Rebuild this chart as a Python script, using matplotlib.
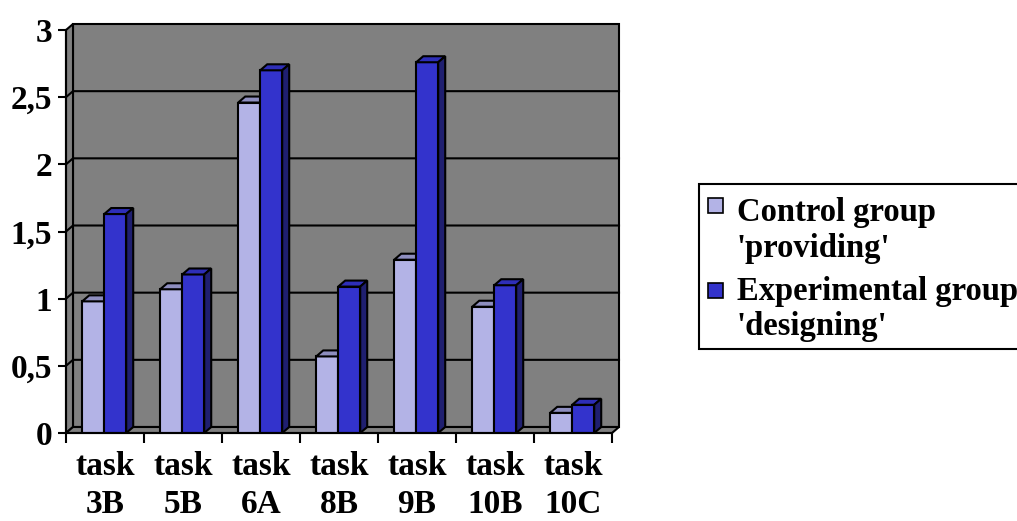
import matplotlib
matplotlib.use("Agg")
import matplotlib.pyplot as plt
from matplotlib.patches import Polygon, Rectangle
from matplotlib.lines import Line2D

# Mean scores per task
categories = ["3B", "5B", "6A", "8B", "9B", "10B", "10C"]
control_vals = [0.98, 1.07, 2.46, 0.57, 1.29, 0.94, 0.15]
experimental_vals = [1.63, 1.18, 2.70, 1.09, 2.76, 1.10, 0.21]
series_names = ["Control group\n'providing'", "Experimental group\n'designing'"]
y_ticks = [0, 0.5, 1, 1.5, 2, 2.5, 3]
y_tick_labels = ["0", "0,5", "1", "1,5", "2", "2,5", "3"]

W, H = 1017, 521
FONT = "Liberation Serif"
EDGE = "black"
LW = 1.5
GRAY = "#808080"

face_colors = ["#B3B3E6", "#3333CC"]
top_colors = ["#8E8EBF", "#2E2EB8"]
side_colors = ["#7A7AA8", "#1F1F70"]

fig = plt.figure(figsize=(W / 100, H / 100), dpi=100)
fig.patch.set_facecolor("white")

# front plane of the plot box, in pixels
x0, x1, y_top, y_bot = 66, 612, 30, 433
ax = fig.add_axes([x0 / W, 1 - y_bot / H, (x1 - x0) / W, (y_bot - y_top) / H])
ax.set_facecolor("none")
n = len(categories)
ax.set_xlim(0, n)
ax.set_ylim(0, 3)

# depth offsets of the walls and bars (data units)
wdx, wdy = 7 / 78, 6 / 134.3
bdx, bdy = 7 / 78, 6 / 134.3
ymax = 3

# back wall
ax.add_patch(Polygon([(wdx, wdy), (n + wdx, wdy), (n + wdx, ymax + wdy), (wdx, ymax + wdy)],
                     closed=True, facecolor=GRAY, edgecolor=EDGE, lw=LW, zorder=1, clip_on=False))
# side wall
ax.add_patch(Polygon([(0, 0), (wdx, wdy), (wdx, ymax + wdy), (0, ymax)],
                     closed=True, facecolor=GRAY, edgecolor=EDGE, lw=LW, zorder=1, clip_on=False))
# floor
ax.add_patch(Polygon([(0, 0), (n, 0), (n + wdx, wdy), (wdx, wdy)],
                     closed=True, facecolor=GRAY, edgecolor=EDGE, lw=LW, zorder=1, clip_on=False))

# gridlines on the back and side walls
for v in y_ticks[1:-1]:
    ax.add_line(Line2D([0, wdx, n + wdx], [v, v + wdy, v + wdy], color=EDGE, lw=LW,
                       zorder=2, clip_on=False))

# bars with a shallow 3D look
bw = 0.282
centre = 0.49
for s, vals in enumerate([control_vals, experimental_vals]):
    xs = [i + centre - bw + s * bw for i in range(n)]
    ax.bar(xs, vals, width=bw, align="edge", color=face_colors[s], edgecolor=EDGE,
           lw=LW, zorder=3 + 0.01 * s, label=series_names[s])
    for xl, v in zip(xs, vals):
        xr = xl + bw
        ax.add_patch(Polygon([(xl, v), (xr, v), (xr + bdx, v + bdy), (xl + bdx, v + bdy)],
                             closed=True, facecolor=top_colors[s], edgecolor=EDGE, lw=LW,
                             zorder=3 + 0.01 * s, clip_on=False))
        ax.add_patch(Polygon([(xr, 0), (xr + bdx, bdy), (xr + bdx, v + bdy), (xr, v)],
                             closed=True, facecolor=side_colors[s], edgecolor=EDGE, lw=LW,
                             zorder=3 + 0.01 * s, clip_on=False))

# axes lines and ticks
for side in ["top", "right"]:
    ax.spines[side].set_visible(False)
for side in ["left", "bottom"]:
    ax.spines[side].set_linewidth(LW)
    ax.spines[side].set_zorder(5)

ax.set_yticks(y_ticks)
ax.set_yticklabels(y_tick_labels, fontfamily=FONT, fontweight="bold", fontsize=24)
ax.tick_params(axis="y", direction="out", length=6, width=LW, pad=4)

ax.set_xticks(range(n + 1))
ax.set_xticklabels([])
ax.set_xticks([i + 0.5 for i in range(n)], minor=True)
ax.set_xticklabels(["task\n" + c for c in categories], minor=True,
                   fontfamily=FONT, fontweight="bold", fontsize=24, linespacing=1.3)
ax.tick_params(axis="x", which="major", direction="out", length=7, width=LW)
ax.tick_params(axis="x", which="minor", length=0, pad=13)


# legend
def fx(px):
    return px / W


def fy(py):
    return 1 - py / H


fig.patches.append(Rectangle((fx(699), fy(349)), fx(1040) - fx(699), fy(184) - fy(349),
                             transform=fig.transFigure, facecolor="white", edgecolor=EDGE,
                             lw=LW, clip_on=False))
entries = [(198, 221, 257), (283, 300, 335)]
for s, (sq_top, base1, base2) in enumerate(entries):
    fig.patches.append(Rectangle((fx(708), fy(sq_top + 15)), fx(15), 15 / H,
                                 transform=fig.transFigure, facecolor=face_colors[s],
                                 edgecolor=EDGE, lw=1.2))
    line1, line2 = series_names[s].split("\n")
    fig.text(fx(737), fy(base1), line1, fontfamily=FONT, fontweight="bold", fontsize=23.5,
             va="baseline", ha="left")
    fig.text(fx(737), fy(base2), line2, fontfamily=FONT, fontweight="bold", fontsize=23.5,
             va="baseline", ha="left")

fig.savefig("out.png", dpi=100)
